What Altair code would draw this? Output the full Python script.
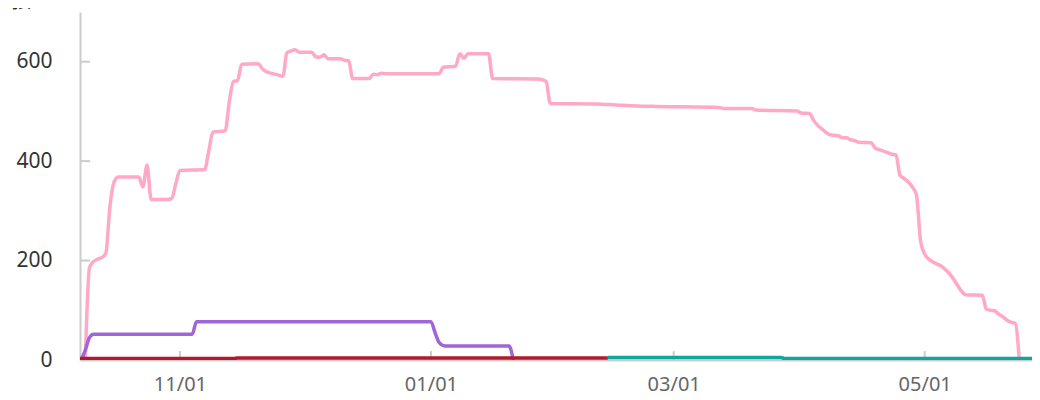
import altair as alt
import pandas as pd

# ---- data ----
y_title = "張"

pink_dates = [
    "2024-10-09", "2024-10-10", "2024-10-11", "2024-10-12", "2024-10-13", "2024-10-14",
    "2024-10-15", "2024-10-16", "2024-10-17", "2024-10-22", "2024-10-23", "2024-10-24",
    "2024-10-25", "2024-10-29", "2024-10-30", "2024-10-31", "2024-11-01", "2024-11-07",
    "2024-11-08", "2024-11-09", "2024-11-12", "2024-11-13", "2024-11-14", "2024-11-15",
    "2024-11-16", "2024-11-20", "2024-11-21", "2024-11-22", "2024-11-23", "2024-11-24",
    "2024-11-25", "2024-11-26", "2024-11-27", "2024-11-28", "2024-11-29", "2024-11-30",
    "2024-12-03", "2024-12-04", "2024-12-05", "2024-12-06", "2024-12-07", "2024-12-10",
    "2024-12-11", "2024-12-12", "2024-12-13", "2024-12-17", "2024-12-18", "2024-12-19",
    "2024-12-20", "2024-12-21", "2025-01-03", "2025-01-04", "2025-01-07", "2025-01-08",
    "2025-01-09", "2025-01-10", "2025-01-15", "2025-01-16", "2025-01-27", "2025-01-28",
    "2025-01-29", "2025-01-30", "2025-02-10", "2025-02-15", "2025-02-20", "2025-02-25",
    "2025-03-12", "2025-03-13", "2025-03-20", "2025-03-21", "2025-03-31", "2025-04-01",
    "2025-04-03", "2025-04-04", "2025-04-05", "2025-04-06", "2025-04-07", "2025-04-08",
    "2025-04-09", "2025-04-10", "2025-04-11", "2025-04-12", "2025-04-13", "2025-04-14",
    "2025-04-15", "2025-04-18", "2025-04-19", "2025-04-20", "2025-04-21", "2025-04-22",
    "2025-04-23", "2025-04-24", "2025-04-25", "2025-04-26", "2025-04-27", "2025-04-28",
    "2025-04-29", "2025-04-30", "2025-05-01", "2025-05-02", "2025-05-03", "2025-05-04",
    "2025-05-05", "2025-05-06", "2025-05-07", "2025-05-08", "2025-05-09", "2025-05-10",
    "2025-05-11", "2025-05-15", "2025-05-16", "2025-05-17", "2025-05-18", "2025-05-19",
    "2025-05-20", "2025-05-21", "2025-05-22", "2025-05-23", "2025-05-24",
]
pink_values = [
    0, 185, 198, 203, 206, 215,
    310, 358, 368, 368, 348, 392,
    323, 323, 325, 355, 381, 383,
    420, 458, 461, 520, 560, 562,
    595, 596, 586, 580, 577, 575,
    573, 571, 618, 622, 624, 619,
    619, 610, 609, 614, 606, 606,
    603, 602, 566, 566, 575, 574,
    577, 576, 576, 589, 591, 616,
    607, 616, 616, 566, 565, 564,
    560, 516, 515, 513, 511, 510,
    508, 506, 506, 503, 501, 497,
    496, 482, 472, 465, 458, 453,
    452, 451, 447, 447, 443, 441,
    438, 437, 426, 423, 420, 417,
    414, 413, 372, 365, 358, 348,
    332, 240, 213, 203, 197, 193,
    189, 182, 174, 163, 150, 138,
    131, 130, 102, 100, 99, 92,
    87, 80, 76, 74, 0,
]

purple_dates = [
    "2024-10-08", "2024-10-09", "2024-10-10", "2024-10-11", "2024-11-04", "2024-11-05",
    "2025-01-01", "2025-01-02", "2025-01-03", "2025-01-04", "2025-01-05", "2025-01-20",
    "2025-01-21",
]
purple_values = [0, 20, 45, 52, 52, 77, 77, 55, 35, 29, 28, 28, 0]

red_dates = ["2024-10-07", "2024-11-14", "2024-11-15", "2025-02-13"]
red_values = [3, 3, 4, 4]

teal_dates = ["2025-02-13", "2025-03-27", "2025-03-28", "2025-05-31"]
teal_values = [5, 5, 3, 3]

x_tick_dates = ["2024-11-01", "2025-01-01", "2025-03-01", "2025-05-01"]
y_tick_values = [0, 200, 400, 600]

PINK = "#ffa8c8"
PURPLE = "#a066d8"
RED = "#b3182d"
TEAL = "#0ea79b"

W, H = 952, 348


def frame(dates, values):
    return pd.DataFrame({"date": [d + "T00:00:00" for d in dates], "value": values})


def dt(s):
    y, m, d = (int(p) for p in s.split("-"))
    return alt.DateTime(year=y, month=m, date=d)


x_scale = alt.Scale(
    domain=[alt.DateTime(year=2024, month=10, date=7, hours=17),
            alt.DateTime(year=2025, month=5, date=27, hours=2)]
)
y_scale = alt.Scale(domain=[0, 700], nice=False)

x_axis = alt.Axis(
    values=[dt(s) for s in x_tick_dates], format="%m/%d", title=None, grid=False,
    ticks=False, tickSize=0, domainColor="#cccccc", domainWidth=2,
    labelFont="Noto Sans", labelFontSize=20, labelColor="#666666", labelPadding=14,
)
y_axis = alt.Axis(
    values=y_tick_values, title=None, grid=False, ticks=False, tickSize=0,
    domainColor="#cccccc", domainWidth=2,
    labelFont="Noto Sans", labelFontSize=21, labelColor="#333333", labelPadding=28,
)

X = alt.X("date:T", scale=x_scale, axis=x_axis)
Y = alt.Y("value:Q", scale=y_scale, axis=y_axis)


def line(df, color):
    return alt.Chart(df).mark_line(
        color=color, strokeWidth=3.5, interpolate="monotone", clip=True
    ).encode(x=X, y=Y)


pink = line(frame(pink_dates, pink_values), PINK)
purple = line(frame(purple_dates, purple_values), PURPLE)
red = line(frame(red_dates, red_values), RED)
teal = line(frame(teal_dates, teal_values), TEAL)

xticks = alt.Chart(
    pd.DataFrame({"date": [d + "T00:00:00" for d in x_tick_dates]})
).mark_rule(color="#cccccc", strokeWidth=2).encode(
    x=X, y=alt.value(H - 9), y2=alt.value(H)
)

yticks = alt.Chart(pd.DataFrame({"value": y_tick_values[1:]})).mark_rule(
    color="#cccccc", strokeWidth=2
).encode(y=Y, x=alt.value(0), x2=alt.value(10))

title = alt.Chart(pd.DataFrame({"t": [y_title]})).mark_text(
    font="Noto Sans CJK TC", fontSize=20, color="#333333",
    align="center", baseline="alphabetic",
).encode(x=alt.value(-59), y=alt.value(-4), text="t:N")

chart = alt.layer(xticks, yticks, pink, purple, red, teal, title).properties(
    width=W, height=H,
    autosize=alt.AutoSizeParams(type="none"),
    padding={"left": 72, "top": 4, "right": 0, "bottom": 40},
).configure_view(stroke=None)

chart.save("out.html", embed_options={"renderer": "svg", "actions": False})
